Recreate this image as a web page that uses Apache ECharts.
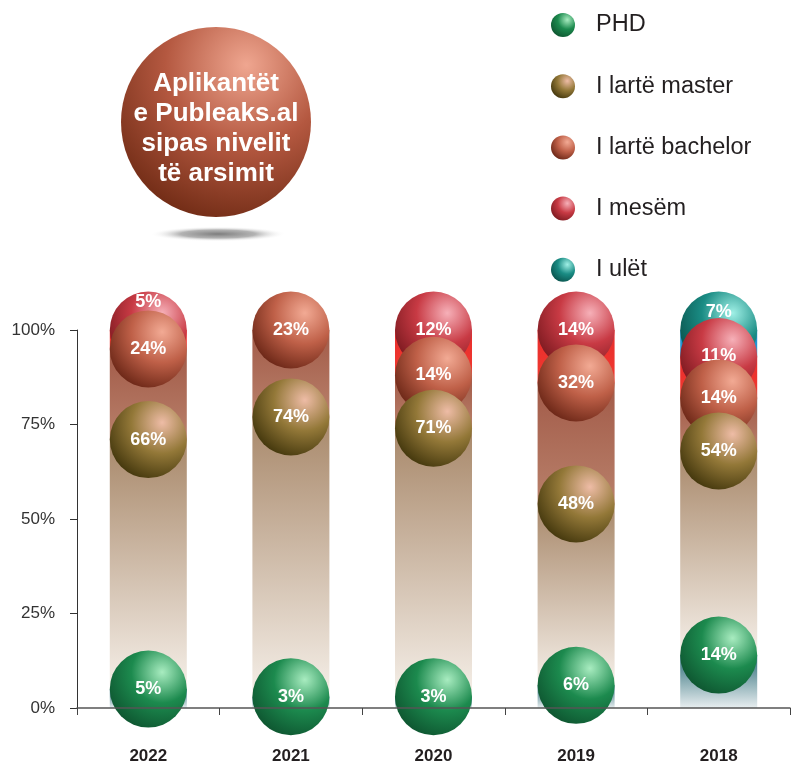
<!DOCTYPE html>
<html>
<head>
<meta charset="utf-8">
<script src="https://cdn.jsdelivr.net/npm/echarts@6/dist/echarts.min.js"></script>
<style>html,body{margin:0;padding:0;background:#fff;}#c{width:792px;height:762px;}</style>
</head>
<body>
<div id="c"></div>
<script>
var categories = ['2022', '2021', '2020', '2019', '2018'];
var seriesNames = ['PHD', 'I lartë master', 'I lartë bachelor', 'I mesëm', 'I ulët'];
var phd = [5, 3, 3, 6, 14];
var master = [66, 74, 71, 48, 54];
var bachelor = [24, 23, 14, 32, 14];
var mesem = [5, null, 12, 14, 11];
var ulet = [null, null, null, null, 7];
var yTicks = [0, 25, 50, 75, 100];
var titleLines = ['Aplikantët', 'e Publeaks.al', 'sipas nivelit', 'të arsimit'];

var values = [phd, master, bachelor, mesem, ulet];
var FONT = "'Liberation Sans', Arial, Helvetica, sans-serif";

function radial(h, m, d) {
  return { type: 'radial', x: 0.68, y: 0.28, r: 0.8,
    colorStops: [{ offset: 0, color: h }, { offset: 0.5, color: m }, { offset: 1, color: d }] };
}
function linear(top, bottom) {
  return { type: 'linear', x: 0, y: 0, x2: 0, y2: 1,
    colorStops: [{ offset: 0, color: top }, { offset: 1, color: bottom }] };
}
var sphereColors = [
  radial('#a8ecc0', '#1c8a4e', '#0e5530'),
  radial('#eebca6', '#937838', '#42360c'),
  radial('#f2aa94', '#bf6048', '#6a2616'),
  radial('#f6b0b8', '#c83a44', '#7c1a20'),
  radial('#a0f0e6', '#1a8c84', '#0a524c')
];
var barColors = [
  linear('#2c6c78', '#e8eef0'),
  linear('#a8886a', '#f5efe8'),
  linear('#a25a48', '#b8806a'),
  linear('#e82c2c', '#f03a30'),
  linear('#1a8ccc', '#2a9ad8')
];

var series = [];
// stacked bars
values.forEach(function (arr, k) {
  series.push({
    type: 'bar', name: seriesNames[k], stack: 'total', barWidth: 77,
    data: arr, itemStyle: { color: barColors[k] }, silent: true, z: 1
  });
});
// spheres at top of each stacked segment
values.forEach(function (arr, k) {
  var pts = [];
  arr.forEach(function (v, i) {
    if (v == null) return;
    var cum = 0;
    for (var j = 0; j <= k; j++) cum += (values[j][i] || 0);
    var off = 0;
    if (k > 0) off = -Math.max(0, (10.5 - v) * 5);
    pts.push({ value: [i, cum, v], label: { offset: [0, off] } });
  });
  series.push({
    type: 'scatter', name: seriesNames[k], data: pts, symbol: 'circle', symbolSize: 77,
    clip: false, z: 10 - k,
    itemStyle: { color: sphereColors[k], opacity: 1 },
    label: {
      show: true, position: 'inside', color: '#fff', fontWeight: 'bold', fontSize: 18,
      fontFamily: FONT,
      formatter: function (p) { return p.value[2] + '%'; }
    },
    emphasis: { disabled: true }
  });
});

var chart = echarts.init(document.getElementById('c'), null, { renderer: 'canvas' });
chart.setOption({
  animation: false,
  backgroundColor: '#fff',
  grid: { left: 77, right: 2, top: 330, bottom: 54, containLabel: false, outerBoundsMode: 'none' },
  legend: {
    orient: 'vertical', left: 551, top: 13, padding: 0, itemWidth: 24, itemHeight: 24, itemGap: 37.2,
    icon: 'circle',
    textStyle: { fontSize: 23.5, color: '#231f20', fontFamily: FONT, padding: [0, 0, 0, 16] },
    data: seriesNames.map(function (n, k) {
      return { name: n, itemStyle: { color: sphereColors[k] } };
    })
  },
  xAxis: {
    type: 'category', data: categories,
    axisLine: { lineStyle: { color: '#555', width: 1.5 } },
    axisTick: { show: true, length: 7, lineStyle: { color: '#444' } },
    axisLabel: { margin: 40, fontSize: 17, fontWeight: 'bold', color: '#231f20', fontFamily: FONT },
    z: 20
  },
  yAxis: {
    type: 'value', min: 0, max: 100, interval: 25,
    axisLine: { show: true, lineStyle: { color: '#333', width: 1 } },
    axisTick: { show: true, length: 7, lineStyle: { color: '#333' } },
    splitLine: { show: false },
    axisLabel: {
      margin: 22, fontSize: 17, color: '#333', fontFamily: FONT,
      formatter: function (v) { return yTicks.indexOf(v) >= 0 ? v + '%' : ''; }
    }
  },
  graphic: [
    { type: 'circle', x: 218, y: 234, scaleX: 1, scaleY: 0.11, shape: { cx: 0, cy: 0, r: 68 },
      style: { fill: { type: 'radial', x: 0.5, y: 0.5, r: 0.5,
        colorStops: [{ offset: 0, color: 'rgba(125,125,125,1)' }, { offset: 0.55, color: 'rgba(165,165,165,0.85)' }, { offset: 1, color: 'rgba(255,255,255,0)' }] } }, z: 0 },
    { type: 'circle', shape: { cx: 216, cy: 122, r: 95 },
      style: { fill: { type: 'radial', x: 0.66, y: 0.2, r: 0.95,
        colorStops: [{ offset: 0, color: '#efa690' }, { offset: 0.45, color: '#b45840' }, { offset: 1, color: '#62220c' }] } }, z: 1 },
    { type: 'text', x: 216, y: 129, z: 2,
      style: { text: titleLines.join('\n'), fill: '#fff', font: 'bold 26px ' + FONT,
        align: 'center', verticalAlign: 'middle', lineHeight: 30 } }
  ],
  series: series
});
</script>
</body>
</html>
